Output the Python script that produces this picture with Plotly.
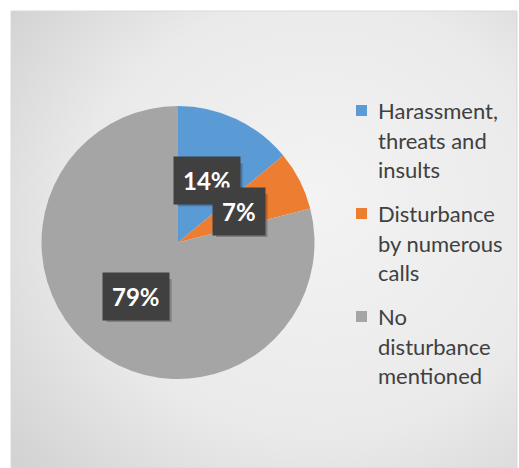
import base64
import math
import plotly.graph_objects as go

# ---- data ----
categories = ["Harassment,<br>threats and<br>insults",
              "Disturbance<br>by numerous<br>calls",
              "No<br>disturbance<br>mentioned"]
values = [14, 7, 79]
colors = ["#5B9BD5", "#ED7D31", "#A5A5A5"]

W, H = 519, 468
# pie geometry (pixels)
CX, CY, R = 178, 242.5, 136.5

def px(x):
    return x / W

def py(y):
    return 1 - y / H

fig = go.Figure()
fig.add_trace(go.Pie(
    values=values, labels=[c.replace("<br>", " ") for c in categories],
    marker=dict(colors=colors, line=dict(width=0)),
    sort=False, direction="clockwise", rotation=0,
    textinfo="none", hoverinfo="label+percent", showlegend=False,
    domain=dict(x=[px(CX - R), px(CX + R)], y=[py(CY + R), py(CY - R)]),
))

# background gradient as svg image
svg = ("<svg xmlns='http://www.w3.org/2000/svg' width='506' height='455'>"
       "<defs><radialGradient id='g' cx='0.62' cy='0.5' r='0.95' fx='0.6' fy='0.4'>"
       "<stop offset='0' stop-color='#F3F3F3'/>"
       "<stop offset='0.5' stop-color='#EAEAEA'/>"
       "<stop offset='1' stop-color='#C6C6C6'/>"
       "</radialGradient></defs>"
       "<rect width='506' height='455' fill='url(#g)'/></svg>")
src = "data:image/svg+xml;base64," + base64.b64encode(svg.encode()).decode()

images = [dict(source=src, xref="paper", yref="paper", x=px(11), y=py(11),
               sizex=px(517) - px(11), sizey=py(11) - py(468),
               xanchor="left", yanchor="top", sizing="stretch", layer="below")]

shapes = [dict(type="rect", xref="paper", yref="paper",
               x0=px(11), x1=px(517), y0=py(468), y1=py(11),
               line=dict(color="#D9D9D9", width=1), fillcolor="rgba(0,0,0,0)")]

annotations = []
# data labels
total = sum(values)
cum = 0
font_lbl = "Lato, 'Open Sans', sans-serif"
for v in values:
    mid = (cum + v / 2) / total * 2 * math.pi
    cum += v
    lx = CX + 0.5 * R * math.sin(mid)
    ly = CY - 0.5 * R * math.cos(mid)
    pct = round(v / total * 100)
    txt = f"<b>{pct}%</b>"
    # drop shadow behind the label box
    bw = 38 + 13.5 * len(str(pct))
    bh = 43
    sx, sy = lx + 3, ly + 4
    shapes.append(dict(type="rect", xref="paper", yref="paper", layer="above",
                       x0=px(sx - bw / 2), x1=px(sx + bw / 2),
                       y0=py(sy + bh / 2), y1=py(sy - bh / 2),
                       line=dict(width=0), fillcolor="rgba(0,0,0,0.22)"))
    annotations.append(dict(x=px(lx), y=py(ly), xref="paper", yref="paper",
                            xanchor="center", yanchor="middle",
                            text=txt, showarrow=False,
                            font=dict(family=font_lbl, size=24, color="white"),
                            bgcolor="#404040", borderpad=9))

# manual legend
first_baselines = [118, 221, 324]
line_gap = 29.5
fs = 22
for cat, col, b0 in zip(categories, colors, first_baselines):
    shapes.append(dict(type="rect", xref="paper", yref="paper",
                       x0=px(356), x1=px(367), y0=py(b0 - 2), y1=py(b0 - 13),
                       line=dict(width=0), fillcolor=col))
    for i, line in enumerate(cat.split("<br>")):
        base = b0 + i * line_gap
        annotations.append(dict(x=px(376), y=py(base - 0.33 * fs), xref="paper", yref="paper",
                                text=line, showarrow=False, xanchor="left", yanchor="middle",
                                font=dict(family="Lato, 'Open Sans', sans-serif", size=fs,
                                          color="#404040")))

fig.update_layout(width=W, height=H, autosize=False,
                  margin=dict(l=0, r=0, t=0, b=0),
                  paper_bgcolor="white", plot_bgcolor="white",
                  images=images, shapes=shapes, annotations=annotations)

fig.write_html("out.html", config={"displayModeBar": False},
               post_script="document.body.style.margin='0px';document.body.style.padding='0px';")
